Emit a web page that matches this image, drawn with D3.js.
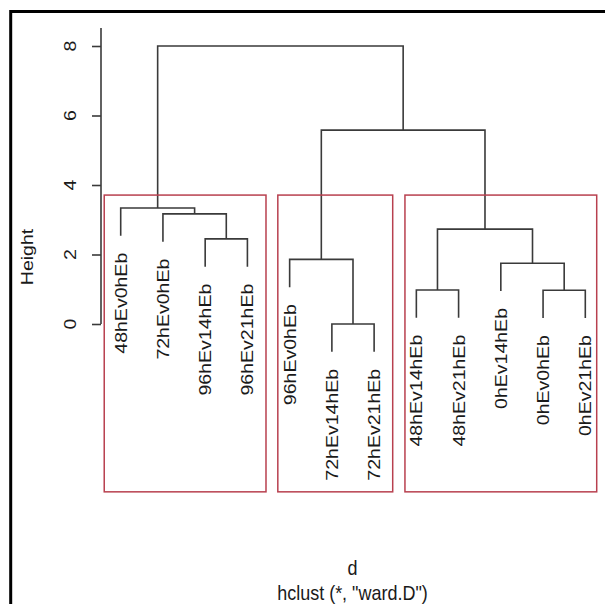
<!DOCTYPE html>
<html>
<head>
<meta charset="utf-8">
<script src="https://cdn.jsdelivr.net/npm/d3@7"></script>
<style>
  html, body { margin: 0; padding: 0; background: #fff; }
  svg { display: block; }
  text { font-family: "Liberation Sans", Arial, sans-serif; fill: #1a1a1a; }
</style>
</head>
<body>
<svg id="chart" width="605" height="604"></svg>
<script>
// ---- data ----
const leafLabels = ["48hEv0hEb", "72hEv0hEb", "96hEv14hEb", "96hEv21hEb", "96hEv0hEb",
  "72hEv14hEb", "72hEv21hEb", "48hEv14hEb", "48hEv21hEb", "0hEv14hEb", "0hEv0hEb", "0hEv21hEb"];
// R hclust-style merge matrix: negative = leaf (1-based position in plot order), positive = earlier step
const mergeA = [-6, -8, -11, -10, -5, -3, 2, -2, -1, 5, 9];
const mergeB = [-7, -9, -12, 3, 1, -4, 4, 6, 8, 7, 10];
const mergeHeight = [0.0, 0.98, 0.97, 1.75, 1.86, 2.45, 2.73, 3.17, 3.34, 5.58, 8.0];
const yTicks = [0, 2, 4, 6, 8];
// rect.hclust boxes (k = 3), in leaf units / height units
const rectLeft = [0.61, 4.72, 7.73];
const rectRight = [4.44, 7.44, 12.27];
const rectTop = 3.71;
const rectBottom = -4.83;
const hang = 0.1 * 8.0;

const svg = d3.select("#chart");
const x = d3.scaleLinear().domain([1, 12]).range([120.7, 585.3]);
const y = d3.scaleLinear().domain([0, 8]).range([324, 46]);
const k = 1.15; // vertical stretch of the reference image

// frame (top and left)
svg.append("path")
  .attr("d", "M10.7,604 V11.5 H605")
  .attr("fill", "none").attr("stroke", "#000").attr("stroke-width", 3);

// compute positions of nodes
const stepX = [], stepH = [];
function nodeX(i) { return i < 0 ? x(-i) : stepX[i - 1]; }
mergeA.forEach((a, s) => {
  const b = mergeB[s];
  stepX[s] = (nodeX(a) + nodeX(b)) / 2;
  stepH[s] = mergeHeight[s];
});
function nodeBottom(i, parentH) { return i < 0 ? parentH - hang : stepH[i - 1]; }

const g = svg.append("g").attr("stroke", "#3a3a3a").attr("stroke-width", 1.6).attr("fill", "none");
mergeA.forEach((a, s) => {
  const b = mergeB[s], h = mergeHeight[s];
  const xa = nodeX(a), xb = nodeX(b);
  const path = d3.path();
  path.moveTo(xa, y(nodeBottom(a, h)));
  path.lineTo(xa, y(h));
  path.lineTo(xb, y(h));
  path.lineTo(xb, y(nodeBottom(b, h)));
  g.append("path").attr("d", path.toString());
});

// leaf labels
leafLabels.forEach((lab, i) => {
  let parentH = 0;
  mergeA.forEach((a, s) => { if (a === -(i + 1) || mergeB[s] === -(i + 1)) parentH = mergeHeight[s]; });
  const yb = y(parentH - hang) + 17;
  svg.append("text")
    .attr("transform", `translate(${x(i + 1)},${yb}) scale(1,${k}) rotate(-90)`)
    .attr("text-anchor", "end").attr("dy", "0.35em")
    .style("font-size", "17px")
    .text(lab);
});

// y axis
const ax = svg.append("g").attr("transform", "translate(101,0)")
  .call(d3.axisLeft(y).tickValues(yTicks).tickSize(9).tickFormat(d3.format("d")));
ax.select(".domain").remove();
ax.selectAll(".tick line").attr("stroke", "#3a3a3a").attr("stroke-width", 1.6);
ax.append("line").attr("x1", 0).attr("x2", 0).attr("y1", y(0)).attr("y2", y(8.52))
  .attr("stroke", "#3a3a3a").attr("stroke-width", 1.6);
ax.selectAll(".tick text").remove();
yTicks.forEach(t => {
  svg.append("text")
    .attr("transform", `translate(70,${y(t)}) scale(1,${k}) rotate(-90)`)
    .attr("text-anchor", "middle").attr("dy", "0.35em")
    .style("font-size", "17px").text(t);
});

// rectangles
rectLeft.forEach((l, i) => {
  svg.append("rect")
    .attr("x", x(l)).attr("y", y(rectTop))
    .attr("width", x(rectRight[i]) - x(l)).attr("height", y(rectBottom) - y(rectTop))
    .attr("fill", "none").attr("stroke", "#b8404f").attr("stroke-width", 1.5);
});

// axis titles
svg.append("text")
  .attr("transform", `translate(27.5,257) scale(1,${k}) rotate(-90)`)
  .attr("text-anchor", "middle").attr("dy", "0.35em")
  .style("font-size", "17px").text("Height");
svg.append("text")
  .attr("transform", `translate(352.5,575) scale(1,${k})`)
  .attr("text-anchor", "middle").style("font-size", "18px").text("d");
svg.append("text")
  .attr("transform", `translate(352.5,600) scale(1,${k})`)
  .attr("text-anchor", "middle").style("font-size", "18px").text('hclust (*, "ward.D")');
</script>
</body>
</html>
